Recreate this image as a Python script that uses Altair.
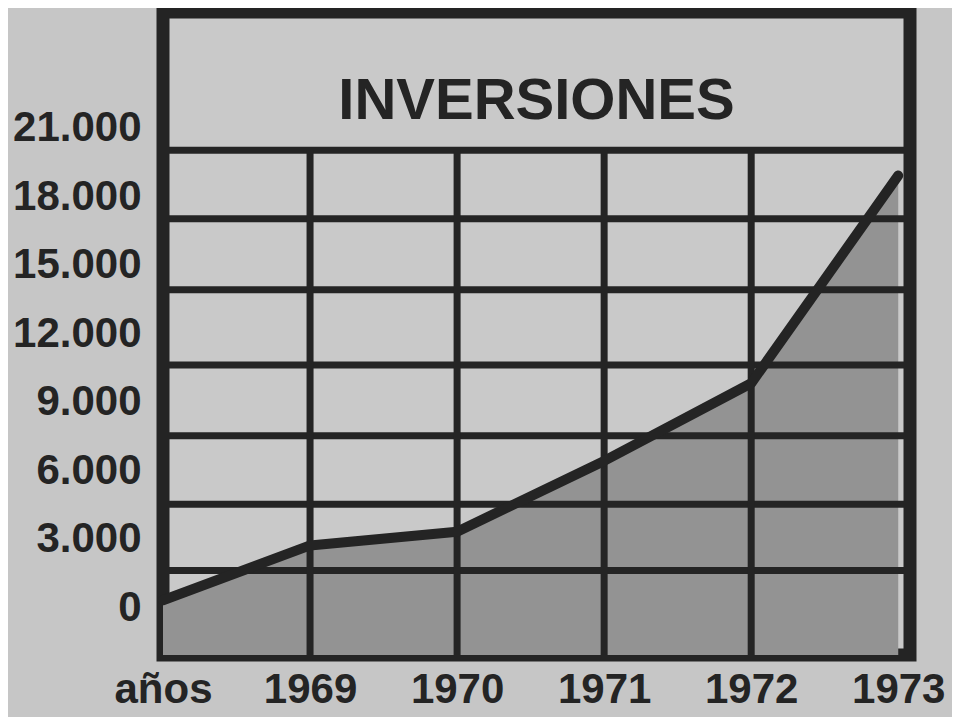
import altair as alt
import pandas as pd

# ---- data ----
years = [1968, 1969, 1970, 1971, 1972, 1973]          # 1968 = "años" origin
inversiones = [300, 2700, 3300, 6400, 9800, 18900]
y_ticks = [0, 3000, 6000, 9000, 12000, 15000, 18000, 21000]
x_ticks = [1968, 1969, 1970, 1971, 1972, 1973]
h_grid = [1600, 4500, 7500, 10600, 13900, 17000, 20000]
v_grid = [1969, 1970, 1971, 1972]

Y_MIN, Y_MAX = -2100, 26060
X_MIN, X_MAX = 1968, 1973.08

INK = "#242424"
FONT = "Liberation Sans, Arial, sans-serif"

df = pd.DataFrame({"year": years, "value": inversiones, "base": [Y_MIN] * len(years)})
hg = pd.DataFrame({"v": h_grid})
vg = pd.DataFrame({"year": v_grid, "lo": [Y_MIN] * len(v_grid), "hi": [h_grid[-1]] * len(v_grid)})

xs = alt.Scale(domain=[X_MIN, X_MAX], nice=False, zero=False)
ys = alt.Scale(domain=[Y_MIN, Y_MAX], nice=False, zero=False)

x_axis = alt.Axis(
    values=x_ticks, title=None, grid=False, ticks=False, domain=False,
    labelExpr="datum.value == 1968 ? 'años' : format(datum.value, 'd')",
    labelFont=FONT, labelFontSize=42, labelFontWeight="bold", labelColor=INK,
    labelPadding=14, labelBaseline="top", labelOverlap=False, labelFlush=False,
)
y_axis = alt.Axis(
    values=y_ticks, title=None, grid=False, ticks=False, domain=False,
    labelExpr="replace(format(datum.value, ','), ',', '.')",
    labelFont=FONT, labelFontSize=42, labelFontWeight="bold", labelColor=INK,
    labelPadding=22, labelOverlap=False, labelFlush=False,
)

area = alt.Chart(df).mark_area(color="#939393", opacity=1).encode(
    x=alt.X("year:Q", scale=xs, axis=x_axis),
    y=alt.Y("value:Q", scale=ys, axis=y_axis),
    y2="base:Q",
)

hrules = alt.Chart(hg).mark_rule(color=INK, strokeWidth=7).encode(
    y=alt.Y("v:Q", scale=ys)
)

vrules = alt.Chart(vg).mark_rule(color=INK, strokeWidth=7).encode(
    x=alt.X("year:Q", scale=xs),
    y=alt.Y("lo:Q", scale=ys),
    y2="hi:Q",
)

line = alt.Chart(df).mark_line(color=INK, strokeWidth=10, strokeJoin="round", strokeCap="round").encode(
    x=alt.X("year:Q", scale=xs),
    y=alt.Y("value:Q", scale=ys),
)

chart = alt.layer(area, hrules, vrules, line).properties(
    width=747,
    height=643,
    title=alt.TitleParams(
        "INVERSIONES", font=FONT, fontSize=58, fontWeight="bold", color=INK,
        anchor="middle", baseline="alphabetic", offset=0, dy=165,
    ),
    autosize=alt.AutoSizeParams(type="none"),
    padding={"left": 155, "top": 4, "right": 42, "bottom": 62},
    background="#c6c6c6",
).configure_view(
    stroke=INK, strokeWidth=13, fill="#c9c9c9"
)

chart.save("out.html", embed_options={"renderer": "svg", "actions": False})
